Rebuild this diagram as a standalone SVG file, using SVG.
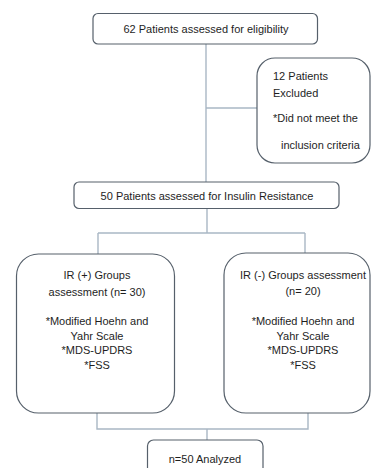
<svg xmlns="http://www.w3.org/2000/svg" width="371" height="468" viewBox="0 0 371 468">
<style>
.box{fill:#ffffff;stroke:#56606b;stroke-width:1.2}
.conn{fill:none;stroke:#a9b7c4;stroke-width:1.4}
text{font-family:"Liberation Sans",Arial,sans-serif;font-size:11px;fill:#1e1e1e}
.c{text-anchor:middle}
</style>
<rect width="371" height="468" fill="#ffffff"/>
<g id="connectors">
<path class="conn" d="M206 44 V182"/>
<path class="conn" d="M206 108 H257"/>
<path class="conn" d="M207 208 V233"/>
<path class="conn" d="M98 233 H305"/>
<path class="conn" d="M98 233 V254"/>
<path class="conn" d="M305 233 V253"/>
<path class="conn" d="M97 413 V429 H308 V413"/>
<path class="conn" d="M207 429 V440"/>
</g>
<g id="n1">
<rect class="box" x="93" y="13.5" width="224.5" height="30.5" rx="5"/>
<text class="c" x="206" y="33">62 Patients assessed for eligibility</text>
</g>
<g id="n2">
<rect class="box" x="257" y="58" width="113" height="105" rx="18"/>
<text x="273" y="80">12 Patients</text>
<text x="273" y="97">Excluded</text>
<text x="273" y="122">*Did not meet the</text>
<text x="281" y="149">inclusion criteria</text>
</g>
<g id="n3">
<rect class="box" x="74" y="182" width="265" height="26.5" rx="5"/>
<text class="c" x="207" y="200">50 Patients assessed for Insulin Resistance</text>
</g>
<g id="n4">
<rect class="box" x="16.5" y="254" width="158" height="159" rx="22"/>
<text class="c" x="97" y="279">IR (+) Groups</text>
<text class="c" x="97" y="296">assessment (n= 30)</text>
<text class="c" x="97" y="325">*Modified Hoehn and</text>
<text class="c" x="97" y="340">Yahr Scale</text>
<text class="c" x="97" y="354">*MDS-UPDRS</text>
<text class="c" x="97" y="369">*FSS</text>
</g>
<g id="n5">
<rect class="box" x="224" y="253" width="146" height="160" rx="22"/>
<text class="c" x="303" y="279">IR (-) Groups assessment</text>
<text class="c" x="303" y="295">(n= 20)</text>
<text class="c" x="303" y="325">*Modified Hoehn and</text>
<text class="c" x="303" y="340">Yahr Scale</text>
<text class="c" x="303" y="354">*MDS-UPDRS</text>
<text class="c" x="303" y="369">*FSS</text>
</g>
<g id="n6">
<rect class="box" x="147.5" y="440" width="115.5" height="40" rx="6"/>
<text class="c" x="205" y="463">n=50 Analyzed</text>
</g>
</svg>
